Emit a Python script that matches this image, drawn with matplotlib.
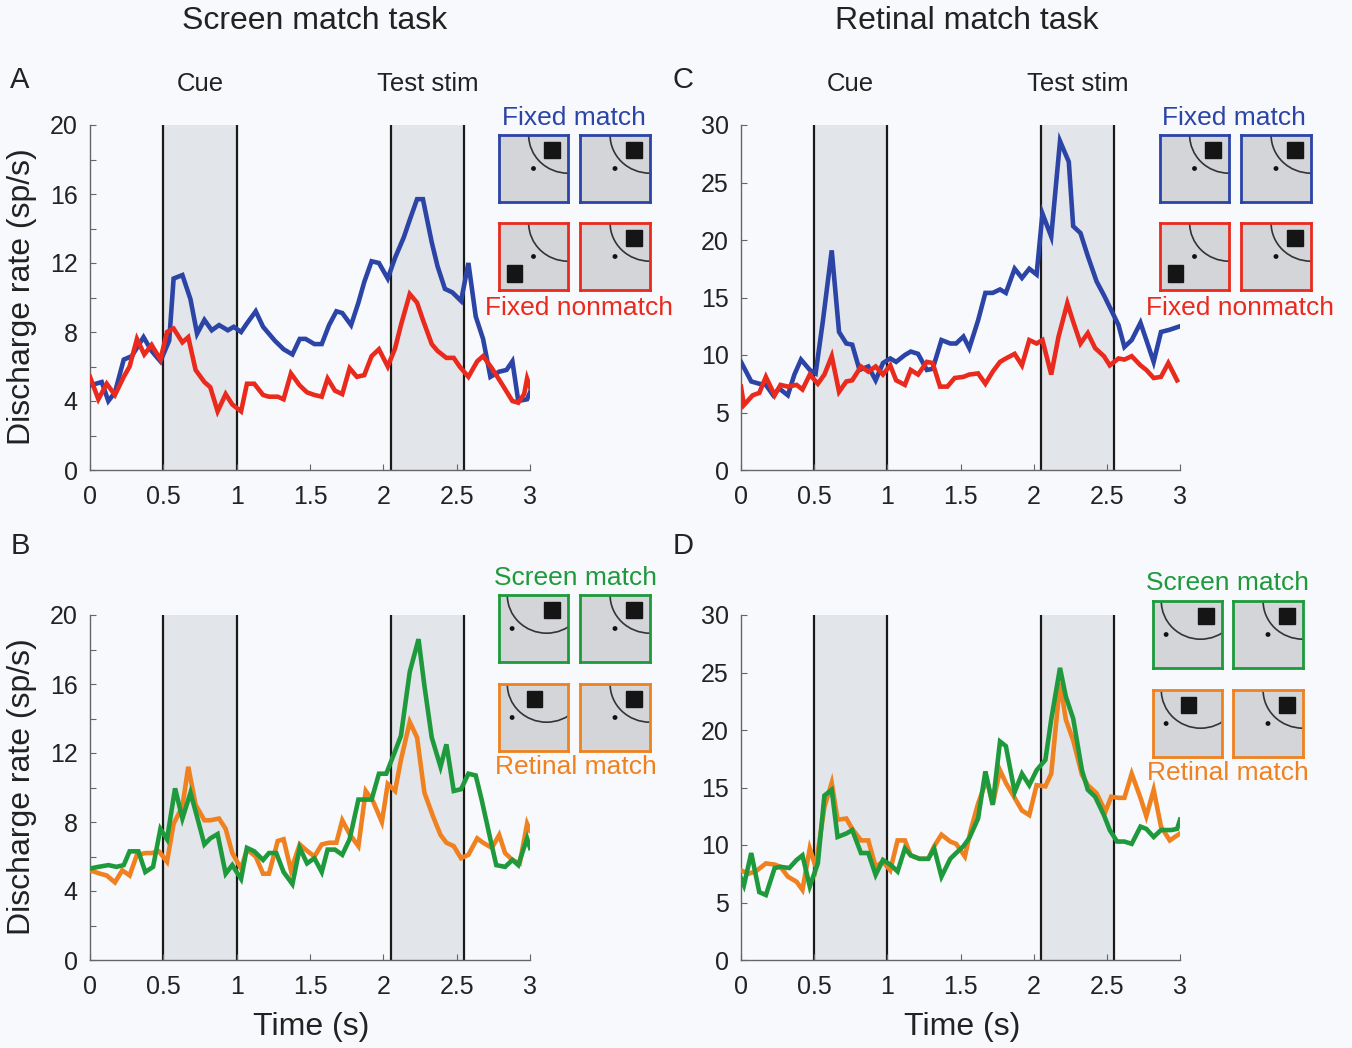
import numpy as np
import matplotlib
matplotlib.use("Agg")
import matplotlib.pyplot as plt
from matplotlib.patches import Circle, Rectangle

plt.rcParams['font.family'] = ['Liberation Sans', 'DejaVu Sans']

# --- data: (time s, rate sp/s) ---
a_fixed_match = [(0, 4.9), (.08, 5.1), (.125, 4.0), (.17, 4.5), (.23, 6.4), (.285, 6.6), (.365, 7.7),
                 (.42, 6.9), (.48, 6.3), (.54, 7.5), (.57, 11.1), (.63, 11.3), (.685, 9.9), (.73, 7.9),
                 (.78, 8.7), (.83, 8.1), (.88, 8.4), (.94, 8.1), (.98, 8.3), (1.03, 8.0), (1.07, 8.5),
                 (1.13, 9.2), (1.18, 8.3), (1.26, 7.5), (1.32, 7.0), (1.38, 6.7), (1.43, 7.6), (1.47, 7.6),
                 (1.53, 7.3), (1.58, 7.3), (1.63, 8.4), (1.68, 9.2), (1.72, 9.1), (1.78, 8.4), (1.83, 9.7),
                 (1.87, 10.9), (1.92, 12.1), (1.97, 12.0), (2.03, 11.1), (2.08, 12.3), (2.14, 13.5),
                 (2.18, 14.5), (2.23, 15.7), (2.27, 15.7), (2.33, 13.2), (2.37, 11.8), (2.42, 10.5),
                 (2.47, 10.3), (2.53, 9.8), (2.58, 12.0), (2.63, 8.9), (2.68, 7.6), (2.73, 5.4), (2.79, 5.7),
                 (2.84, 5.8), (2.88, 6.3), (2.92, 4.0), (2.98, 4.1), (3.0, 4.5)]
a_fixed_nonmatch = [(0, 5.4), (.057, 4.1), (.114, 5.0), (.17, 4.35), (.23, 5.4), (.27, 6.0), (.32, 7.6),
                    (.37, 6.7), (.42, 7.25), (.48, 6.4), (.525, 8.0), (.57, 8.2), (.63, 7.4), (.67, 7.7),
                    (.72, 5.8), (.78, 5.1), (.82, 4.8), (.87, 3.4), (.925, 4.4), (.97, 3.8), (1.03, 3.4),
                    (1.07, 5.0), (1.12, 5.0), (1.18, 4.35), (1.22, 4.25), (1.28, 4.25), (1.32, 4.1),
                    (1.37, 5.6), (1.43, 4.9), (1.48, 4.5), (1.53, 4.35), (1.58, 4.25), (1.62, 5.3), (1.67, 4.6),
                    (1.72, 4.4), (1.77, 5.9), (1.82, 5.4), (1.87, 5.5), (1.92, 6.6), (1.97, 7.0), (2.03, 6.0),
                    (2.08, 7.05), (2.12, 8.4), (2.18, 10.2), (2.23, 9.7), (2.27, 8.7), (2.33, 7.3), (2.37, 6.9),
                    (2.43, 6.5), (2.48, 6.5), (2.52, 6.0), (2.58, 5.4), (2.64, 6.3), (2.68, 6.6), (2.74, 5.9),
                    (2.80, 5.1), (2.88, 4.0), (2.92, 3.9), (2.96, 4.4), (2.98, 5.3), (3.0, 4.8)]

c_fixed_match = [(0, 9.4), (.07, 7.7), (.125, 7.5), (.17, 7.4), (.22, 6.5), (.26, 7.1), (.32, 6.5),
                 (.365, 8.3), (.41, 9.6), (.47, 8.7), (.51, 8.4), (.56, 13.0), (.62, 19.1), (.67, 12.0),
                 (.72, 11.0), (.76, 10.9), (.81, 8.7), (.87, 9.0), (.92, 7.8), (.97, 9.3), (1.02, 9.7),
                 (1.06, 9.4), (1.12, 10.0), (1.16, 10.3), (1.21, 10.1), (1.27, 8.7), (1.31, 8.8),
                 (1.37, 11.3), (1.43, 11.0), (1.47, 11.0), (1.52, 11.6), (1.56, 10.6), (1.62, 13.0),
                 (1.67, 15.4), (1.72, 15.4), (1.77, 15.7), (1.81, 15.4), (1.87, 17.5), (1.92, 16.7),
                 (1.97, 17.5), (2.02, 17.0), (2.06, 22.3), (2.12, 20.3), (2.18, 28.6), (2.24, 26.8),
                 (2.27, 21.2), (2.32, 20.6), (2.37, 18.6), (2.43, 16.4), (2.48, 15.2), (2.53, 13.9),
                 (2.58, 12.6), (2.62, 10.7), (2.67, 11.3), (2.73, 12.8), (2.77, 11.3), (2.82, 9.4),
                 (2.87, 12.0), (2.93, 12.2), (3.0, 12.5)]
c_fixed_nonmatch = [(0, 7.25), (.02, 5.65), (.08, 6.5), (.125, 6.7), (.17, 8.1), (.23, 6.5), (.27, 7.4),
                    (.32, 7.25), (.38, 7.4), (.42, 7.0), (.47, 8.3), (.525, 7.5), (.57, 8.3), (.62, 9.9),
                    (.67, 6.8), (.72, 7.7), (.76, 7.8), (.82, 9.0), (.87, 8.55), (.92, 9.0), (.97, 8.3),
                    (1.02, 9.1), (1.06, 7.8), (1.12, 7.4), (1.16, 8.7), (1.21, 8.3), (1.27, 9.4), (1.31, 9.3),
                    (1.36, 7.25), (1.41, 7.25), (1.46, 8.0), (1.52, 8.1), (1.56, 8.3), (1.62, 8.4), (1.67, 7.5),
                    (1.72, 8.55), (1.77, 9.4), (1.81, 9.7), (1.87, 10.1), (1.92, 9.1), (1.97, 11.3), (2.02, 11.0),
                    (2.06, 11.3), (2.12, 8.3), (2.17, 11.6), (2.23, 14.5), (2.27, 12.9), (2.32, 11.0),
                    (2.37, 11.9), (2.42, 10.6), (2.48, 9.9), (2.52, 9.1), (2.58, 9.7), (2.62, 9.6), (2.67, 9.9),
                    (2.73, 9.1), (2.77, 8.7), (2.82, 8.0), (2.87, 8.1), (2.92, 9.3), (2.98, 7.8)]

b_screen_match = [(0, 5.3), (.057, 5.4), (.126, 5.5), (.18, 5.4), (.23, 5.5), (.27, 6.3), (.33, 6.3),
                  (.377, 5.1), (.43, 5.4), (.48, 7.6), (.525, 7.0), (.58, 9.95), (.63, 8.2), (.685, 9.7),
                  (.73, 8.3), (.78, 6.7), (.82, 7.05), (.87, 7.3), (.925, 5.0), (.97, 5.5), (1.03, 4.7),
                  (1.07, 6.5), (1.12, 6.3), (1.18, 5.8), (1.22, 6.2), (1.27, 6.2), (1.32, 5.1), (1.38, 4.4),
                  (1.43, 6.5), (1.48, 5.6), (1.53, 5.9), (1.58, 5.1), (1.62, 6.4), (1.67, 6.4), (1.72, 6.1),
                  (1.77, 7.0), (1.83, 9.3), (1.87, 9.3), (1.92, 9.3), (1.97, 10.8), (2.02, 10.8), (2.08, 12.1),
                  (2.12, 13.0), (2.18, 16.7), (2.24, 18.6), (2.28, 15.9), (2.33, 12.9), (2.39, 11.2),
                  (2.43, 12.5), (2.48, 9.8), (2.53, 9.9), (2.58, 10.8), (2.63, 10.7), (2.67, 9.3), (2.73, 7.0),
                  (2.77, 5.5), (2.83, 5.4), (2.88, 5.8), (2.92, 5.5), (2.98, 7.05), (3.0, 6.5)]
b_retinal_match = [(0, 5.2), (.07, 5.0), (.114, 4.9), (.17, 4.5), (.22, 5.2), (.27, 4.9), (.32, 6.1),
                   (.38, 6.2), (.42, 6.2), (.47, 6.3), (.525, 5.7), (.57, 7.9), (.63, 8.9), (.67, 11.2),
                   (.72, 9.0), (.78, 8.1), (.82, 8.1), (.88, 8.2), (.925, 7.6), (.97, 6.2), (1.03, 5.3),
                   (1.07, 6.4), (1.13, 6.0), (1.18, 5.0), (1.22, 5.0), (1.28, 6.9), (1.32, 7.0), (1.37, 5.2),
                   (1.43, 6.7), (1.47, 6.4), (1.53, 6.0), (1.58, 6.7), (1.63, 6.8), (1.68, 6.8), (1.72, 8.1),
                   (1.77, 7.3), (1.83, 6.6), (1.88, 9.8), (1.93, 9.2), (1.99, 8.0), (2.03, 10.2), (2.08, 9.8),
                   (2.12, 11.6), (2.18, 13.8), (2.23, 12.9), (2.28, 9.7), (2.34, 8.3), (2.39, 7.25),
                   (2.43, 6.8), (2.48, 6.6), (2.53, 5.9), (2.58, 6.1), (2.64, 7.05), (2.68, 6.8), (2.74, 6.5),
                   (2.79, 7.25), (2.83, 6.2), (2.88, 5.8), (2.93, 5.6), (2.98, 7.9), (3.0, 7.5)]

d_screen_match = [(0, 7.1), (.02, 6.5), (.07, 9.3), (.125, 5.9), (.17, 5.65), (.23, 8.0), (.27, 8.1),
                  (.33, 8.0), (.38, 8.7), (.42, 9.1), (.47, 6.4), (.525, 8.4), (.57, 14.3), (.62, 14.8),
                  (.66, 10.7), (.72, 11.0), (.76, 11.3), (.82, 9.3), (.87, 9.3), (.92, 7.4), (.97, 8.7),
                  (1.02, 8.3), (1.07, 7.7), (1.12, 9.7), (1.16, 9.1), (1.22, 8.8), (1.28, 8.8), (1.32, 9.7),
                  (1.37, 7.25), (1.43, 8.8), (1.47, 9.3), (1.52, 9.9), (1.56, 10.6), (1.62, 12.3),
                  (1.67, 16.4), (1.72, 13.5), (1.77, 19.0), (1.81, 18.6), (1.87, 14.6), (1.92, 16.2),
                  (1.97, 15.2), (2.02, 16.5), (2.08, 17.4), (2.12, 20.9), (2.18, 25.4), (2.22, 22.9),
                  (2.27, 21.0), (2.33, 16.5), (2.37, 14.8), (2.42, 14.2), (2.48, 12.6), (2.52, 11.3),
                  (2.57, 10.3), (2.62, 10.3), (2.67, 10.1), (2.73, 11.6), (2.77, 11.4), (2.82, 10.7),
                  (2.87, 11.3), (2.94, 11.3), (2.98, 11.4), (3.0, 12.2)]
d_retinal_match = [(0, 7.8), (.05, 7.5), (.10, 7.7), (.17, 8.4), (.23, 8.3), (.27, 8.1), (.32, 7.25),
                   (.38, 6.8), (.42, 6.1), (.47, 9.7), (.51, 8.1), (.57, 13.3), (.62, 15.4), (.66, 12.2),
                   (.72, 12.3), (.76, 11.4), (.82, 10.4), (.87, 10.4), (.92, 8.1), (.97, 8.55), (1.02, 7.8),
                   (1.07, 10.4), (1.12, 10.4), (1.16, 9.1), (1.22, 8.8), (1.28, 8.8), (1.32, 9.9), (1.37, 10.9),
                   (1.43, 10.3), (1.47, 10.1), (1.53, 9.0), (1.57, 11.3), (1.62, 13.6), (1.68, 15.7),
                   (1.72, 13.5), (1.77, 16.5), (1.81, 15.4), (1.87, 14.1), (1.92, 13.0), (1.97, 12.6),
                   (2.02, 15.2), (2.08, 15.1), (2.12, 16.2), (2.18, 24.1), (2.22, 20.9), (2.27, 19.1),
                   (2.33, 16.1), (2.37, 15.2), (2.43, 14.5), (2.49, 12.9), (2.53, 14.2), (2.58, 14.1),
                   (2.62, 14.1), (2.67, 16.2), (2.73, 14.1), (2.77, 12.5), (2.82, 14.8), (2.87, 11.6),
                   (2.93, 10.4), (3.0, 11.0)]

cue_window = (0.5, 1.0)
test_window = (2.05, 2.55)
x_ticks = [0, 0.5, 1, 1.5, 2, 2.5, 3]
x_ticklabels = ['0', '0.5', '1', '1.5', '2', '2.5', '3']

BLUE = '#2b44a6'
RED = '#e92a1d'
GREEN = '#1e9a3c'
ORANGE = '#f08120'
BG = '#f8f9fc'
W, H = 1352, 1048

fig = plt.figure(figsize=(W / 100, H / 100), dpi=100, facecolor=BG)


def px_rect(x0, y0, x1, y1):
    return [x0 / W, 1 - y1 / H, (x1 - x0) / W, (y1 - y0) / H]


def panel(rect, series, ymax, ystep, ylabel_step):
    ax = fig.add_axes(px_rect(*rect))
    ax.set_facecolor(BG)
    for w in (cue_window, test_window):
        ax.axvspan(w[0], w[1], color='#e2e5e9', lw=0, zorder=0)
        for xv in w:
            ax.axvline(xv, color='#1a1a1a', lw=1.6, zorder=1)
    for data, col in series:
        t, r = np.array(data).T
        ax.plot(t, r, color=col, lw=3.3, zorder=3, solid_joinstyle='miter')
    ax.set_xlim(0, 3)
    ax.set_ylim(0, ymax)
    ax.set_xticks(x_ticks)
    ax.set_xticklabels(x_ticklabels)
    yt = np.arange(0, ymax + 0.1, ystep)
    ax.set_yticks(yt)
    ax.set_yticklabels([str(int(v)) if v % ylabel_step == 0 else '' for v in yt])
    for s in ('top', 'right'):
        ax.spines[s].set_visible(False)
    for s in ('left', 'bottom'):
        ax.spines[s].set_color('#666666')
        ax.spines[s].set_linewidth(1.0)
    ax.tick_params(direction='in', length=4, width=0.8, color='#666666',
                   labelsize=18, labelcolor='#222222')
    ax.tick_params(axis='x', pad=11)
    ax.tick_params(axis='y', pad=9)
    return ax


def icon(rect, color, eye, square):
    ax = fig.add_axes(px_rect(*rect))
    ax.set_xlim(0, 1)
    ax.set_ylim(0, 1)
    ax.set_facecolor('#d3d5d8')
    ax.set_xticks([])
    ax.set_yticks([])
    for s in ax.spines.values():
        s.set_color(color)
        s.set_linewidth(2)
    ex, ey = eye
    ax.add_patch(Circle((ex + 0.5, ey + 0.5), 0.57, fill=False, ec='#333333', lw=1.2))
    ax.add_patch(Circle((ex, ey), 0.025, color='#111111'))
    sx, sy = square
    ax.add_patch(Rectangle((sx, sy), 0.23, 0.25, color='#151515'))


# main panels
axA = panel((90, 125, 530, 470), [(a_fixed_match, BLUE), (a_fixed_nonmatch, RED)], 20, 2, 4)
axC = panel((741, 125, 1180, 470), [(c_fixed_match, BLUE), (c_fixed_nonmatch, RED)], 30, 5, 5)
axB = panel((90, 615, 530, 960), [(b_retinal_match, ORANGE), (b_screen_match, GREEN)], 20, 2, 4)
axD = panel((741, 615, 1180, 960), [(d_retinal_match, ORANGE), (d_screen_match, GREEN)], 30, 5, 5)

# cue / test stim labels above top panels
for ax in (axA, axC):
    ax.text(0.75, 1.12, 'Cue', transform=ax.get_xaxis_transform(), ha='center', va='center',
            fontsize=18.5, color='#222222')
    ax.text(2.3, 1.12, 'Test stim', transform=ax.get_xaxis_transform(), ha='center', va='center',
            fontsize=18.5, color='#222222')

# column titles, panel letters, axis labels
fig.text(315 / W, 1 - 21 / H, 'Screen match task', ha='center', va='center', fontsize=23, color='#222222')
fig.text(967 / W, 1 - 21 / H, 'Retinal match task', ha='center', va='center', fontsize=23, color='#222222')
for lab, x, y in [('A', 20, 80), ('B', 20, 546), ('C', 683, 80), ('D', 683, 546)]:
    fig.text(x / W, 1 - y / H, lab, ha='center', va='center', fontsize=21, color='#222222')
for yc in (297, 787):
    fig.text(22 / W, 1 - yc / H, 'Discharge rate (sp/s)', rotation=90, ha='center', va='center',
             fontsize=23, color='#222222')
for xc in (311, 962):
    fig.text(xc / W, 1 - 1027 / H, 'Time (s)', ha='center', va='center', fontsize=23, color='#222222')

# legend icons
std_eye = (0.5, 0.5)
left_eye = (0.19, 0.5)
sq_tr = (0.65, 0.65)
sq_bl = (0.11, 0.12)
sq_mid = (0.40, 0.65)

for dx in (0, 661):
    icon((499 + dx, 135, 568 + dx, 202), BLUE, std_eye, sq_tr)
    icon((580 + dx, 135, 650 + dx, 202), BLUE, std_eye, sq_tr)
    icon((499 + dx, 223, 568 + dx, 290), RED, std_eye, sq_bl)
    icon((580 + dx, 223, 650 + dx, 290), RED, std_eye, sq_tr)
fig.text(574 / W, 1 - 118 / H, 'Fixed match', ha='center', va='center', fontsize=19, color=BLUE)
fig.text(579 / W, 1 - 308 / H, 'Fixed nonmatch', ha='center', va='center', fontsize=19, color=RED)
fig.text(1234 / W, 1 - 118 / H, 'Fixed match', ha='center', va='center', fontsize=19, color=BLUE)
fig.text(1240 / W, 1 - 308 / H, 'Fixed nonmatch', ha='center', va='center', fontsize=19, color=RED)

for (x0, y0, gap, oy) in [(499, 595, 81, 89), (1153, 601, 80, 89)]:
    icon((x0, y0, x0 + 69, y0 + 67), GREEN, left_eye, sq_tr)
    icon((x0 + gap, y0, x0 + gap + 70, y0 + 67), GREEN, std_eye, sq_tr)
    icon((x0, y0 + oy, x0 + 69, y0 + oy + 67), ORANGE, left_eye, sq_mid)
    icon((x0 + gap, y0 + oy, x0 + gap + 70, y0 + oy + 67), ORANGE, std_eye, sq_tr)
fig.text(575 / W, 1 - 578 / H, 'Screen match', ha='center', va='center', fontsize=19, color=GREEN)
fig.text(576 / W, 1 - 767 / H, 'Retinal match', ha='center', va='center', fontsize=19, color=ORANGE)
fig.text(1228 / W, 1 - 583 / H, 'Screen match', ha='center', va='center', fontsize=19, color=GREEN)
fig.text(1228 / W, 1 - 773 / H, 'Retinal match', ha='center', va='center', fontsize=19, color=ORANGE)

fig.savefig('out.png', dpi=100, facecolor=BG)
